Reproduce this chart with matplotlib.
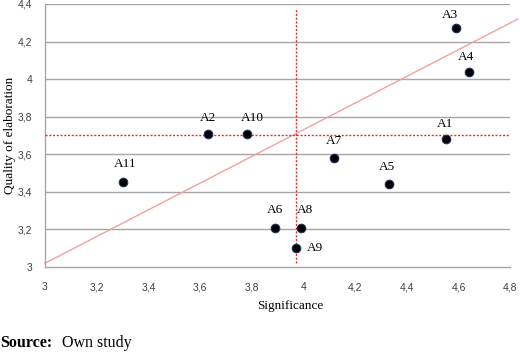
import matplotlib
matplotlib.use("Agg")
import matplotlib.pyplot as plt

labels = ["A1", "A2", "A3", "A4", "A5", "A6", "A7", "A8", "A9", "A10", "A11"]
significance = [4.55, 3.63, 4.59, 4.64, 4.33, 3.89, 4.12, 3.99, 3.97, 3.78, 3.30]
quality = [3.68, 3.71, 4.27, 4.04, 3.44, 3.21, 3.58, 3.21, 3.10, 3.71, 3.45]

mean_sig = 3.97
mean_qual = 3.70
trend_x = [3.0, 4.83]
trend_y = [3.02, 4.32]

x_ticks = [3.0, 3.2, 3.4, 3.6, 3.8, 4.0, 4.2, 4.4, 4.6, 4.8]
y_ticks = [3.0, 3.2, 3.4, 3.6, 3.8, 4.0, 4.2, 4.4]

def fmt(v):
    s = f"{v:.1f}"
    if s.endswith(".0"):
        s = s[:-2]
    return s.replace(".", ",")

fig = plt.figure(figsize=(5.2, 3.53), dpi=100)
ax = fig.add_axes([0.0865, 0.2436, 0.8945, 0.7451])
ax.set_xlim(3.0, 4.8)
ax.set_ylim(3.0, 4.4)

for y in y_ticks[1:]:
    ax.axhline(y, color="#a6a6a6", lw=1.0, zorder=1)

for s in ["top", "right"]:
    ax.spines[s].set_visible(False)
for s in ["left", "bottom"]:
    ax.spines[s].set_color("#a6a6a6")
    ax.spines[s].set_linewidth(1.0)

ax.set_xticks(x_ticks)
ax.set_yticks(y_ticks)
ax.set_xticklabels([fmt(v) for v in x_ticks])
ax.set_yticklabels([fmt(v) for v in y_ticks])
ax.tick_params(length=0, labelsize=7.5, colors="#404040")
ax.tick_params(axis="x", pad=11)
ax.tick_params(axis="y", pad=9)
for t in ax.get_xticklabels() + ax.get_yticklabels():
    t.set_family("Liberation Sans")

# trend line
ax.plot(trend_x, trend_y, color="#f4a0a0", lw=1.0, zorder=2, clip_on=False)
# mean lines
ax.plot([mean_sig, mean_sig], [3.02, 4.38], color="#e8302a", lw=1.0, ls=(0, (1.5, 1.2)), zorder=3)
ax.plot([3.0, 4.8], [mean_qual, mean_qual], color="#e8302a", lw=1.0, ls=(0, (1.5, 1.2)), zorder=3)

ax.scatter(significance, quality, s=38, color="black", edgecolor="#1f2f5a", linewidth=0.8, zorder=4)

offsets = {
    "A1": (0, 11), "A2": (0, 11.5), "A3": (-4, 9.5), "A4": (-2, 10.5),
    "A5": (-1, 12.5), "A6": (0, 12.5), "A7": (0, 12), "A8": (3, 12.5),
    "A9": (8, 0), "A10": (4, 11.5), "A11": (2, 13),
}
for lab, x, y in zip(labels, significance, quality):
    dx, dy = offsets[lab]
    ha = "left" if lab == "A9" else "center"
    ax.annotate(lab, (x, y), xytext=(dx, dy), textcoords="offset points",
                ha=ha, va="center", fontsize=9.5, family="Liberation Serif", zorder=5)

ax.set_xlabel("Significance", family="Liberation Serif", fontsize=9.5)
ax.set_ylabel("Quality of elaboration", family="Liberation Serif", fontsize=9.5)
ax.xaxis.set_label_coords((290 - 45) / 465, -(300 - 267) / 263)
ax.yaxis.set_label_coords(-(45 - 16) / 465, (267 - 135) / 263)

fig.text(0.0, 1 - 343 / 353, "Source:", family="Liberation Serif", fontsize=11.5, weight="bold", va="center", ha="left")
fig.text(62 / 520, 1 - 343 / 353, "Own study", family="Liberation Serif", fontsize=11.5, va="center", ha="left")

fig.savefig("out.png", dpi=100)
